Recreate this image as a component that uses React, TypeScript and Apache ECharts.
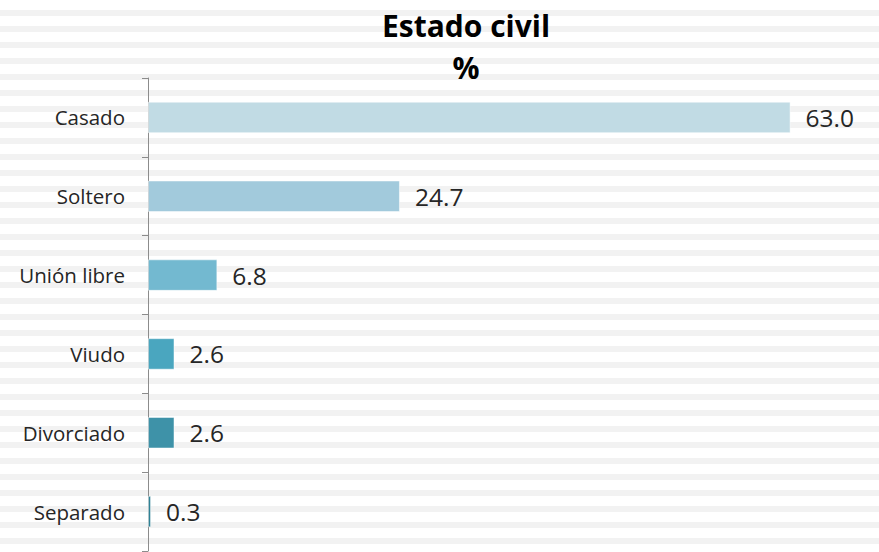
import React, { useEffect, useRef } from "react";
import * as echarts from "echarts";

const categories = ["Casado", "Soltero", "Unión libre", "Viudo", "Divorciado", "Separado"];
const values = [63.0, 24.7, 6.8, 2.6, 2.6, 0.3];
const barColors = ["#c1dbe4", "#a2cadc", "#73b9d0", "#4aa6bf", "#3e92a8", "#2f8296"];
const titleText = "Estado civil";
const subtitleText = "%";

export default function App() {
  const ref = useRef<HTMLDivElement>(null);
  useEffect(() => {
    if (!ref.current) return;
    const chart = echarts.init(ref.current, null, { renderer: "svg" });
    chart.setOption({
      animation: false,
      backgroundColor: "transparent",
      title: [
        {
          text: titleText,
          left: 461,
          top: 5,
          textAlign: "center",
          textStyle: { fontFamily: "Open Sans", fontWeight: "bold", fontSize: 30, color: "#000" },
        },
        {
          text: subtitleText,
          left: 461,
          top: 47,
          textAlign: "center",
          textStyle: { fontFamily: "Open Sans", fontWeight: "bold", fontSize: 30, color: "#000" },
        },
      ],
      grid: { left: 148, right: 17, top: 78, bottom: 1, containLabel: false },
      xAxis: {
        type: "value",
        min: 0,
        max: 70,
        show: false,
      },
      yAxis: {
        type: "category",
        data: categories,
        inverse: true,
        axisLine: { show: true, lineStyle: { color: "#8c8c8c", width: 1 } },
        axisTick: { show: true, length: 6, lineStyle: { color: "#8c8c8c" } },
        axisLabel: {
          margin: 23,
          fontFamily: "Open Sans",
          fontSize: 20.5,
          color: "#262626",
        },
        splitLine: { show: false },
      },
      series: [
        {
          type: "bar",
          data: values.map((v, i) => ({
            value: v,
            itemStyle: { color: barColors[i] },
          })),
          barCategoryGap: "60%",
          itemStyle: { borderColor: "rgba(255,255,255,0.5)", borderWidth: 1 },
          label: {
            show: true,
            position: "right",
            distance: 15,
            formatter: (p: any) => Number(p.value).toFixed(1),
            fontFamily: "Open Sans",
            fontSize: 24.5,
            color: "#262626",
          },
        },
      ],
    });
    return () => chart.dispose();
  }, []);
  return (
    <div
      style={{
        position: "fixed",
        left: 0,
        top: 0,
        width: 879,
        height: 552,
        background:
          "repeating-linear-gradient(to bottom, #f2f2f2 0px, #f2f2f2 0.5px, #ffffff 0.5px, #ffffff 10px, #f2f2f2 10px, #f2f2f2 16px)",
      }}
    >
      <div ref={ref} style={{ width: 879, height: 552 }} />
    </div>
  );
}
